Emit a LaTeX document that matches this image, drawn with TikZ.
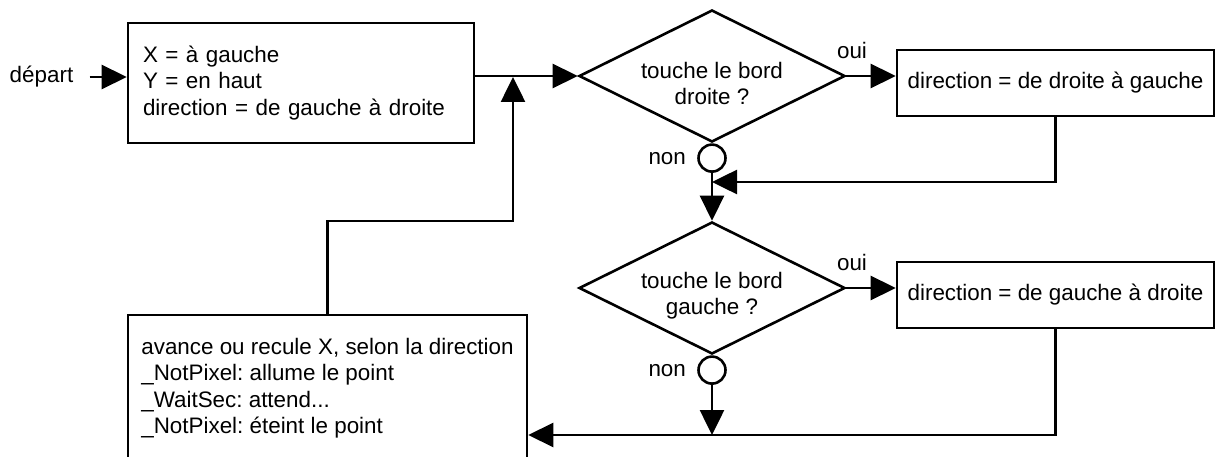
\documentclass[tikz,border=0pt]{standalone}
\usepackage{fontspec}
\setmainfont{Liberation Sans}
\usetikzlibrary{arrows.meta,shapes.geometric,calc}
\begin{document}
\begin{tikzpicture}[x=1pt,y=-1pt,
  line width=2.6pt,
  every node/.style={font=\fontsize{22.4}{26.5}\selectfont\frenchspacing},
  arr/.style={-{Triangle[length=25pt,width=24pt]}},
  procbox/.style={draw,rectangle,inner ysep=0pt,align=left},
  actbox/.style={draw,rectangle,minimum width=317pt,minimum height=66pt,inner sep=0pt},
  test/.style={draw,diamond,minimum width=266pt,minimum height=132pt,inner sep=0pt},
  testtext/.style={align=center,inner sep=0pt},
  knot/.style={draw,circle,minimum size=27pt,inner sep=0pt},
  lbl/.style={inner sep=0pt}]
  \useasboundingbox (0,0) rectangle (1216,457);
  \clip (0,0) rectangle (1216,457);

  % start
  \node[lbl] (start) at (41.5,77) {départ};
  \node[procbox,inner xsep=15pt,text width=316pt,minimum height=120pt] (init) at (301,83)
    {X = à gauche\\Y = en haut\\direction = de gauche à droite};

  % first test
  \node[test] (t1) at (712,76) {};
  \node[testtext] (t1txt) at (712,83.5) {touche le bord\\droite ?};
  \node[actbox] (a1) at (1055.5,83) {direction = de droite à gauche};
  \node[lbl] (yes1) at (852,50) {oui};
  \node[knot,anchor=north] (k1) at (t1.south) {};
  \node[lbl,anchor=east] (no1) at ($(k1.west)+(-10,0)$) {non};

  % second test
  \node[test] (t2) at (712,288) {};
  \node[testtext] (t2txt) at (712,295.5) {touche le bord\\gauche ?};
  \node[actbox] (a2) at (1055.5,295) {direction = de gauche à droite};
  \node[lbl] (yes2) at (852,262) {oui};
  \node[knot,anchor=north] (k2) at (t2.south) {};
  \node[lbl,anchor=east] (no2) at ($(k2.west)+(-10,0)$) {non};

  % loop body
  \node[procbox,inner xsep=0pt,minimum width=399pt,minimum height=146pt] (body) at (327.5,388)
    {avance ou recule X, selon la direction\\\_NotPixel: allume le point\\\_WaitSec: attend...\\\_NotPixel: éteint le point};

  % junction points
  \coordinate (j1) at (513,77);
  \coordinate (back) at (513,221);
  \coordinate (m1) at (712,182);
  \coordinate (m2) at (712,435);

  % connectors
  \draw[arr] (start.east) ++(15,0) -- (init.west |- start.east);
  \draw[arr] (init.east |- t1.west) -- (t1.west);
  \draw[arr] (t1.east) -- (t1.east -| a1.west);
  \draw[arr] (a1.south) |- (m1);
  \draw[arr] (k1.south) -- (t2.north);
  \draw[arr] (t2.east) -- (t2.east -| a2.west);
  \draw[arr] (k2.south) -- (m2);
  \draw[arr] (a2.south) |- (body.east |- m2);
  \draw[arr] (body.north) |- (back) -- (j1);
\end{tikzpicture}
\end{document}
